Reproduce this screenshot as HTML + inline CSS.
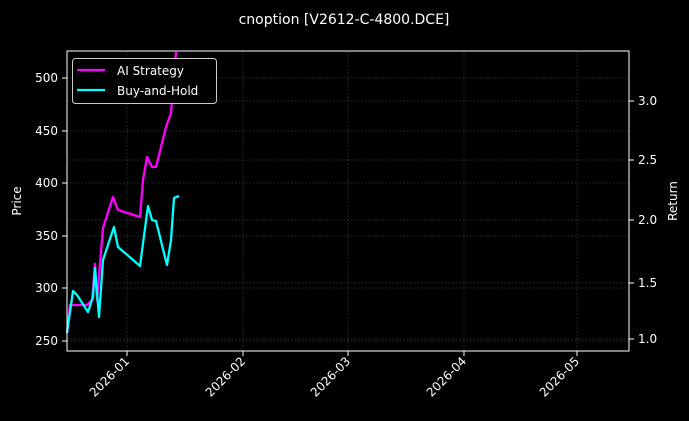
<!DOCTYPE html><html><head><style>body{margin:0;background:#000}svg{display:block}text{font-family:"DejaVu Sans","Liberation Sans",sans-serif;fill:#fff}</style></head><body>
<svg width="689" height="421" viewBox="0 0 689 421">
<rect width="689" height="421" fill="#000"/>
<text x="344" y="24" font-size="14" text-anchor="middle">cnoption [V2612-C-4800.DCE]</text>
<g stroke="#4a4a4a" stroke-width="0.5" stroke-dasharray="2,1.5">
<line x1="127" y1="51" x2="127" y2="351"/><line x1="243" y1="51" x2="243" y2="351"/><line x1="348" y1="51" x2="348" y2="351"/><line x1="464" y1="51" x2="464" y2="351"/><line x1="577" y1="51" x2="577" y2="351"/>
<line x1="67" y1="341" x2="629" y2="341"/><line x1="67" y1="288" x2="629" y2="288"/><line x1="67" y1="236" x2="629" y2="236"/><line x1="67" y1="183" x2="629" y2="183"/><line x1="67" y1="131" x2="629" y2="131"/><line x1="67" y1="78" x2="629" y2="78"/>
<line x1="67" y1="339" x2="629" y2="339"/><line x1="67" y1="283" x2="629" y2="283"/><line x1="67" y1="220" x2="629" y2="220"/><line x1="67" y1="160" x2="629" y2="160"/><line x1="67" y1="101" x2="629" y2="101"/>
</g>
<polyline fill="none" stroke="#ff00ff" stroke-width="2.3" stroke-linejoin="round" points="67,333 70,305 87,305 92,300 95,264 97,300 103,228 113,197 118,210 140,217 143,180 147,157 152,167 156,167 166,127 171,113 175,63 176,52"/>
<polyline fill="none" stroke="#00ffff" stroke-width="2.3" stroke-linejoin="round" points="67,333 73,291 77,295 88,312 93,297 95,268 99,317 103,260 114,227 118,247 140,266 148,206 152,220 156,221 167,265 171,240 174,198 179,196"/>
<rect x="67" y="51" width="562" height="300" fill="none" stroke="#fff" stroke-width="1"/>
<g stroke="#fff"><line x1="62" y1="341" x2="67" y2="341"/><line x1="62" y1="288" x2="67" y2="288"/><line x1="62" y1="236" x2="67" y2="236"/><line x1="62" y1="183" x2="67" y2="183"/><line x1="62" y1="131" x2="67" y2="131"/><line x1="62" y1="78" x2="67" y2="78"/>
<line x1="629" y1="339" x2="634" y2="339"/><line x1="629" y1="283" x2="634" y2="283"/><line x1="629" y1="220" x2="634" y2="220"/><line x1="629" y1="160" x2="634" y2="160"/><line x1="629" y1="101" x2="634" y2="101"/>
<line x1="127" y1="351" x2="127" y2="356"/><line x1="243" y1="351" x2="243" y2="356"/><line x1="348" y1="351" x2="348" y2="356"/><line x1="464" y1="351" x2="464" y2="356"/><line x1="577" y1="351" x2="577" y2="356"/></g>
<g font-size="12" text-anchor="end"><text x="58" y="345">250</text><text x="58" y="292">300</text><text x="58" y="240">350</text><text x="58" y="187">400</text><text x="58" y="135">450</text><text x="58" y="82">500</text></g>
<g font-size="12"><text x="638" y="343">1.0</text><text x="638" y="287">1.5</text><text x="638" y="224">2.0</text><text x="638" y="164">2.5</text><text x="638" y="105">3.0</text></g>
<text font-size="12" transform="translate(21,201) rotate(-90)" text-anchor="middle">Price</text>
<text font-size="12" transform="translate(677,201) rotate(-90)" text-anchor="middle">Return</text>
<g font-size="12" text-anchor="end">
<text transform="translate(130,362) rotate(-45)">2026-01</text><text transform="translate(246,362) rotate(-45)">2026-02</text><text transform="translate(351,362) rotate(-45)">2026-03</text><text transform="translate(467,362) rotate(-45)">2026-04</text><text transform="translate(580,362) rotate(-45)">2026-05</text></g>
<rect x="72.5" y="58.5" width="144" height="45" rx="3" fill="#000" stroke="#ccc" stroke-width="1"/>
<line x1="77" y1="70" x2="105" y2="70" stroke="#ff00ff" stroke-width="2.3"/>
<line x1="77" y1="90" x2="105" y2="90" stroke="#00ffff" stroke-width="2.3"/>
<text x="117" y="75" font-size="12">AI Strategy</text>
<text x="117" y="95" font-size="12">Buy-and-Hold</text>
</svg></body></html>
